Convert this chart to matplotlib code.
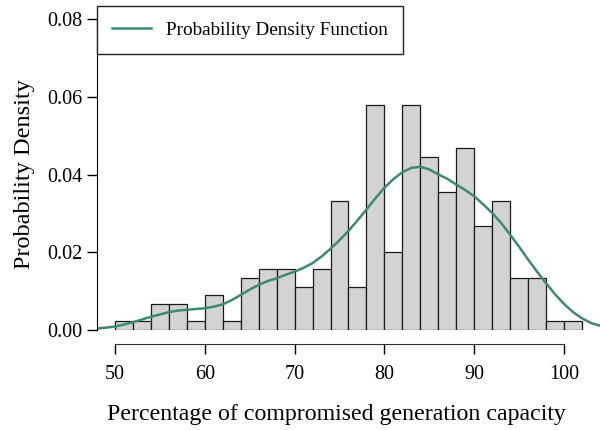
import matplotlib
matplotlib.use("Agg")
import matplotlib.pyplot as plt
import numpy as np

plt.rcParams['font.family'] = ['Liberation Serif', 'DejaVu Serif']

# histogram bins (width 2) and densities
bin_edges = np.arange(50, 104, 2)
bar_density = [0.0022, 0.0022, 0.0067, 0.0067, 0.0022, 0.0089, 0.0022, 0.0133,
               0.0156, 0.0156, 0.0111, 0.0156, 0.0333, 0.0111, 0.0578, 0.0200,
               0.0578, 0.0444, 0.0356, 0.0467, 0.0267, 0.0333, 0.0133, 0.0133,
               0.0022, 0.0022]

# density curve
pdf_x = [48, 49, 50, 51, 52, 53, 54, 55, 56, 57, 58, 59, 60, 61, 62, 63, 64,
         65, 66, 67, 68, 69, 70, 71, 72, 73, 74, 75, 76, 77, 78, 79, 80, 81,
         82, 83, 84, 85, 86, 87, 88, 89, 90, 91, 92, 93, 94, 95, 96, 97, 98,
         99, 100, 101, 102, 103, 104]
pdf_y = [0.0004, 0.0006, 0.0009, 0.0014, 0.0020, 0.0027, 0.0034, 0.0040,
         0.0046, 0.0050, 0.0052, 0.0054, 0.0056, 0.0060, 0.0066, 0.0077,
         0.0090, 0.0104, 0.0116, 0.0126, 0.0133, 0.0142, 0.0150, 0.0160,
         0.0172, 0.0189, 0.0209, 0.0231, 0.0255, 0.0282, 0.0310, 0.0339,
         0.0366, 0.0388, 0.0406, 0.0417, 0.0420, 0.0413, 0.0400, 0.0389,
         0.0374, 0.0360, 0.0344, 0.0323, 0.0301, 0.0275, 0.0245, 0.0214,
         0.0181, 0.0150, 0.0120, 0.0092, 0.0067, 0.0046, 0.0030, 0.0018,
         0.0011]

x_ticks = [50, 60, 70, 80, 90, 100]
y_ticks = [0.00, 0.02, 0.04, 0.06, 0.08]

fig = plt.figure(figsize=(6, 4.3), dpi=100)
ax = fig.add_axes([97 / 600, 100 / 430, 503 / 600, 311 / 430])

ax.bar(bin_edges[:-1], bar_density, width=2, align='edge',
       color='#d3d3d3', edgecolor='#1a1a1a', linewidth=0.9)
line, = ax.plot(pdf_x, pdf_y, color='#3d8a72', linewidth=1.8,
                solid_joinstyle='round', label='Probability Density Function')

ax.set_xlim(48, 104)
ax.set_ylim(0, 0.08)

ax.spines['top'].set_visible(False)
ax.spines['right'].set_visible(False)
ax.spines['bottom'].set_position(('outward', 10))
ax.spines['bottom'].set_bounds(50, 100)
ax.spines['bottom'].set_color('#333333')

ax.set_xticks(x_ticks)
ax.set_yticks(y_ticks)
ax.set_yticklabels(['%.2f' % v for v in y_ticks])
ax.tick_params(axis='both', direction='out', length=7.5, width=1,
               labelsize=14.5)
ax.tick_params(axis='x', pad=8)
ax.tick_params(axis='y', pad=3)

ax.set_xlabel('Percentage of compromised generation capacity',
              fontsize=17.2, labelpad=12)
ax.xaxis.set_label_coords(0.476, -0.239)
ax.set_ylabel('Probability Density', fontsize=17.5, labelpad=9)

fig.legend(handles=[line], loc='upper left',
           bbox_to_anchor=(97 / 600, 1 - 6 / 430), borderaxespad=0,
           fancybox=False, edgecolor='#222222', framealpha=1,
           fontsize=13.8, handlelength=2.0, handletextpad=0.8,
           borderpad=0.8)

fig.savefig('out.png', dpi=100)
